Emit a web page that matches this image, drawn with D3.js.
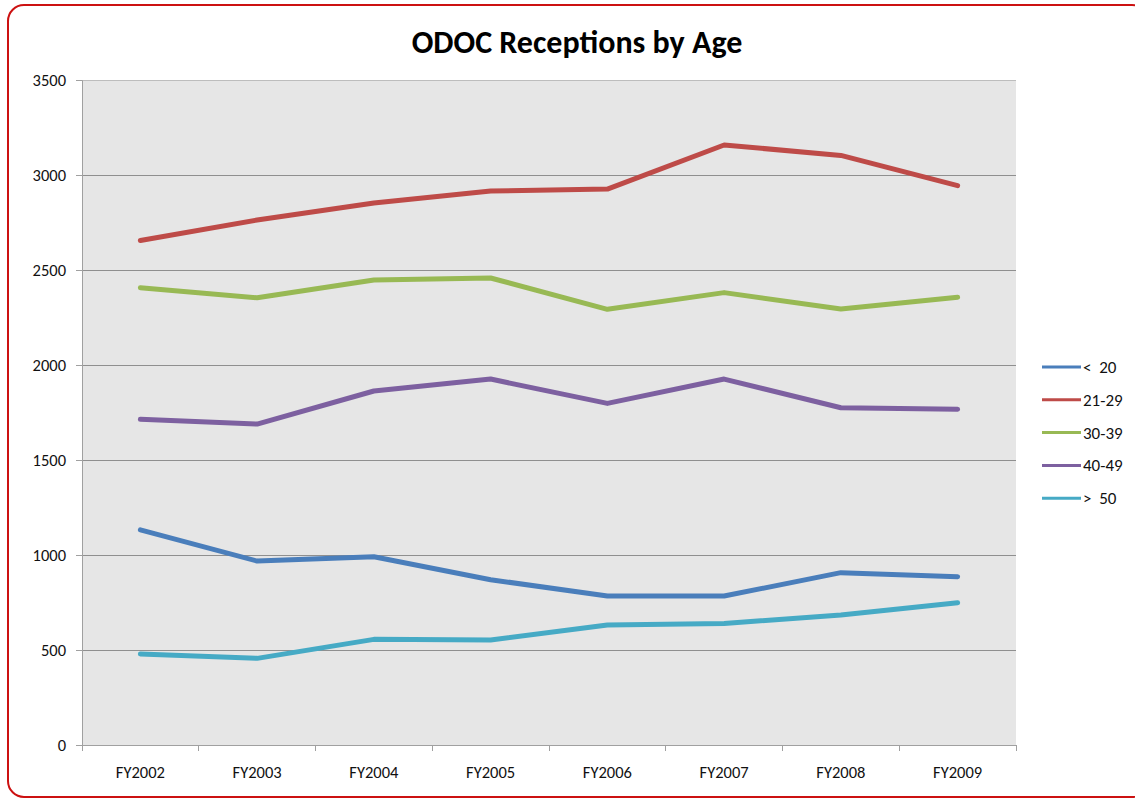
<!DOCTYPE html>
<html><head><meta charset="utf-8">
<script src="https://cdn.jsdelivr.net/npm/d3@7"></script>
<style>body{margin:0;background:#fff;} text{font-family:Carlito,Lato,"Open Sans",sans-serif;}</style>
</head><body>
<svg id="c" width="1135" height="800"></svg>
<script>
const categories = ["FY2002","FY2003","FY2004","FY2005","FY2006","FY2007","FY2008","FY2009"];
const seriesNames = ["<  20","21-29","30-39","40-49",">  50"];
const under20 = [1132, 968, 991, 870, 784, 784, 907, 886];
const age21to29 = [2655, 2763, 2853, 2916, 2926, 3158, 3103, 2944];
const age30to39 = [2407, 2354, 2447, 2458, 2293, 2381, 2295, 2356];
const age40to49 = [1714, 1689, 1863, 1926, 1798, 1926, 1775, 1767];
const over50 = [479, 456, 556, 553, 632, 640, 684, 749];
const yTicks = [0, 500, 1000, 1500, 2000, 2500, 3000, 3500];
const colors = ["#4a7ebb","#be4b48","#98b954","#7d60a0","#46aac5"];
const allSeries = [under20, age21to29, age30to39, age40to49, over50];

const svg = d3.select("#c");
// border
svg.append("rect").attr("x",8).attr("y",5).attr("width",1140).attr("height",792)
  .attr("rx",16).attr("fill","#fff").attr("stroke","#cc1111").attr("stroke-width",2);

const L=82, R=1016, T=80, B=745;
const x = d3.scalePoint().domain(categories).range([L,R]).padding(0.5);
const xb = d3.scaleBand().domain(categories).range([L,R]);
const y = d3.scaleLinear().domain([0,3500]).range([B,T]);

svg.append("rect").attr("x",L).attr("y",T).attr("width",R-L).attr("height",B-T).attr("fill","#e6e6e6");

// gridlines
svg.append("g").selectAll("line").data(yTicks.filter(d=>d>0)).join("line")
  .attr("x1",L).attr("x2",R).attr("y1",d=>y(d)).attr("y2",d=>y(d))
  .attr("stroke",d=>d===3500?"#bdbdbd":"#8f8f8f").attr("stroke-width",1).attr("shape-rendering","crispEdges");

// y axis
const ya = svg.append("g").attr("transform",`translate(${L},0)`)
  .call(d3.axisLeft(y).tickValues(yTicks).tickSize(6).tickPadding(10).tickFormat(d3.format("d")));
ya.select(".domain").attr("stroke","#a0a0a0");
ya.selectAll(".tick line").attr("stroke","#a0a0a0");
ya.selectAll("text").attr("font-size",16.5).attr("fill","#111");

// x axis
const xa = svg.append("g").attr("transform",`translate(0,${B})`)
  .call(d3.axisBottom(xb).tickSize(0).tickPadding(21));
xa.select(".domain").attr("stroke","#a0a0a0");
xa.selectAll("text").attr("font-size",16.5).attr("fill","#111");
// tick marks at band boundaries
const bounds = categories.map(c=>xb(c)).concat([R]);
svg.append("g").selectAll("line").data(bounds).join("line")
  .attr("x1",d=>d).attr("x2",d=>d).attr("y1",B).attr("y2",B+6)
  .attr("stroke","#a0a0a0").attr("shape-rendering","crispEdges");

// lines
const line = d3.line().x((d,i)=>x(categories[i])).y(d=>y(d));
svg.append("g").selectAll("path").data(allSeries).join("path")
  .attr("d",line).attr("fill","none").attr("stroke",(d,i)=>colors[i])
  .attr("stroke-width",5).attr("stroke-linecap","round").attr("stroke-linejoin","round");

// title
svg.append("text").attr("x",577).attr("y",53).attr("text-anchor","middle")
  .attr("font-size",32).attr("font-weight","bold").attr("fill","#000").text("ODOC Receptions by Age");

// legend
const lg = svg.append("g").selectAll("g").data(seriesNames).join("g")
  .attr("transform",(d,i)=>`translate(1042,${367+i*32.8})`);
lg.append("line").attr("x1",0).attr("x2",39).attr("stroke",(d,i)=>colors[i]).attr("stroke-width",3);
lg.append("text").attr("x",41).attr("dy","0.35em").attr("font-size",17).attr("fill","#111")
  .attr("xml:space","preserve").style("white-space","pre").text(d=>d);
</script>
</body></html>
